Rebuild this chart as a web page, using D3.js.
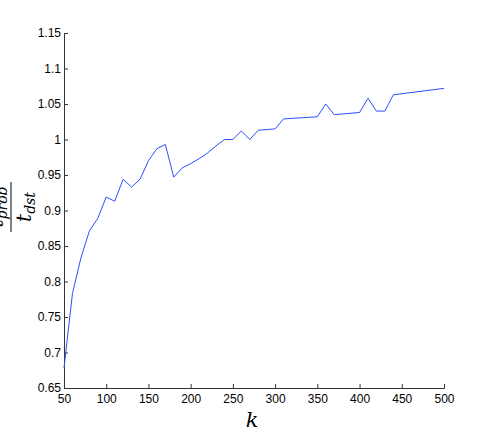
<!DOCTYPE html>
<html>
<head>
<meta charset="utf-8">
<script src="https://cdn.jsdelivr.net/npm/d3@7"></script>
<style>
  body { margin: 0; background: #fff; }
  svg { display: block; }
  .tick text { font-family: "Liberation Sans", Arial, sans-serif; font-size: 12px; fill: #000; }
  .domain, .tick line { stroke: #333; }
</style>
</head>
<body>
<svg id="chart" width="491" height="436"></svg>
<script>
// values
var kValues = [50, 60, 70, 80, 90, 100, 110, 120, 130, 140, 150, 160, 170, 180, 190, 200,
  210, 220, 230, 240, 250, 260, 270, 280, 300, 310, 350, 360, 370, 400, 410, 420, 430, 440, 500];
var ratio = [0.678, 0.783, 0.833, 0.871, 0.889, 0.919, 0.913, 0.944, 0.933, 0.944, 0.970, 0.987,
  0.993, 0.947, 0.960, 0.966, 0.973, 0.981, 0.991, 1.000, 1.000, 1.012, 1.000, 1.013, 1.015,
  1.029, 1.032, 1.050, 1.035, 1.038, 1.058, 1.040, 1.040, 1.063, 1.072];
var xTicks = [50, 100, 150, 200, 250, 300, 350, 400, 450, 500];
var yTicks = [0.65, 0.7, 0.75, 0.8, 0.85, 0.9, 0.95, 1, 1.05, 1.1, 1.15];

var svg = d3.select("#chart"),
    margin = {top: 33, right: 47, bottom: 48, left: 64},
    width = +svg.attr("width") - margin.left - margin.right,
    height = +svg.attr("height") - margin.top - margin.bottom;

var x = d3.scaleLinear().domain([50, 500]).range([0, width]);
var y = d3.scaleLinear().domain([0.65, 1.15]).range([height, 0]);

var g = svg.append("g")
    .attr("transform", "translate(" + margin.left + "," + margin.top + ")");

// matlab style: ticks point inwards, no box
g.append("g")
    .attr("transform", "translate(0," + height + ")")
    .call(d3.axisBottom(x).tickValues(xTicks).tickSize(-4).tickPadding(4).tickFormat(d3.format("d")))
    .call(function (a) { a.selectAll(".tick text").attr("dy", "0.71em").attr("y", 6); });

g.append("g")
    .call(d3.axisLeft(y).tickValues(yTicks).tickSize(-4).tickPadding(3).tickFormat(function (d) { return String(+d.toFixed(2)); }));

g.selectAll(".domain").attr("stroke", "#333");

var line = d3.line()
    .x(function (d, i) { return x(kValues[i]); })
    .y(function (d) { return y(d); });

g.append("path")
    .datum(ratio)
    .attr("fill", "none")
    .attr("stroke", "#2f4dff")
    .attr("stroke-width", 1)
    .attr("d", line);

// x label
svg.append("text")
    .attr("x", margin.left + width / 2 - 2)
    .attr("y", 427)
    .attr("text-anchor", "middle")
    .style("font-family", "'DejaVu Serif', 'Liberation Serif', serif")
    .style("font-style", "italic")
    .style("font-size", "21px")
    .text("k");

// y label: t_prob / t_dst, rotated
var yl = svg.append("g")
    .attr("transform", "translate(0,207) rotate(-90)")
    .style("font-family", "'DejaVu Serif', 'Liberation Serif', serif")
    .style("font-style", "italic");

var num = yl.append("text").attr("x", 0).attr("y", 3).attr("text-anchor", "middle");
num.append("tspan").style("font-size", "20px").text("t");
num.append("tspan").style("font-size", "14px").attr("dy", 4).text("prob");

yl.append("line")
    .attr("x1", -25).attr("x2", 25)
    .attr("y1", 11).attr("y2", 11)
    .attr("stroke", "#000").attr("stroke-width", 1);

var den = yl.append("text").attr("x", 0).attr("y", 31).attr("text-anchor", "middle");
den.append("tspan").style("font-size", "20px").text("t");
den.append("tspan").style("font-size", "14px").attr("dy", 4).text("dst");
</script>
</body>
</html>
